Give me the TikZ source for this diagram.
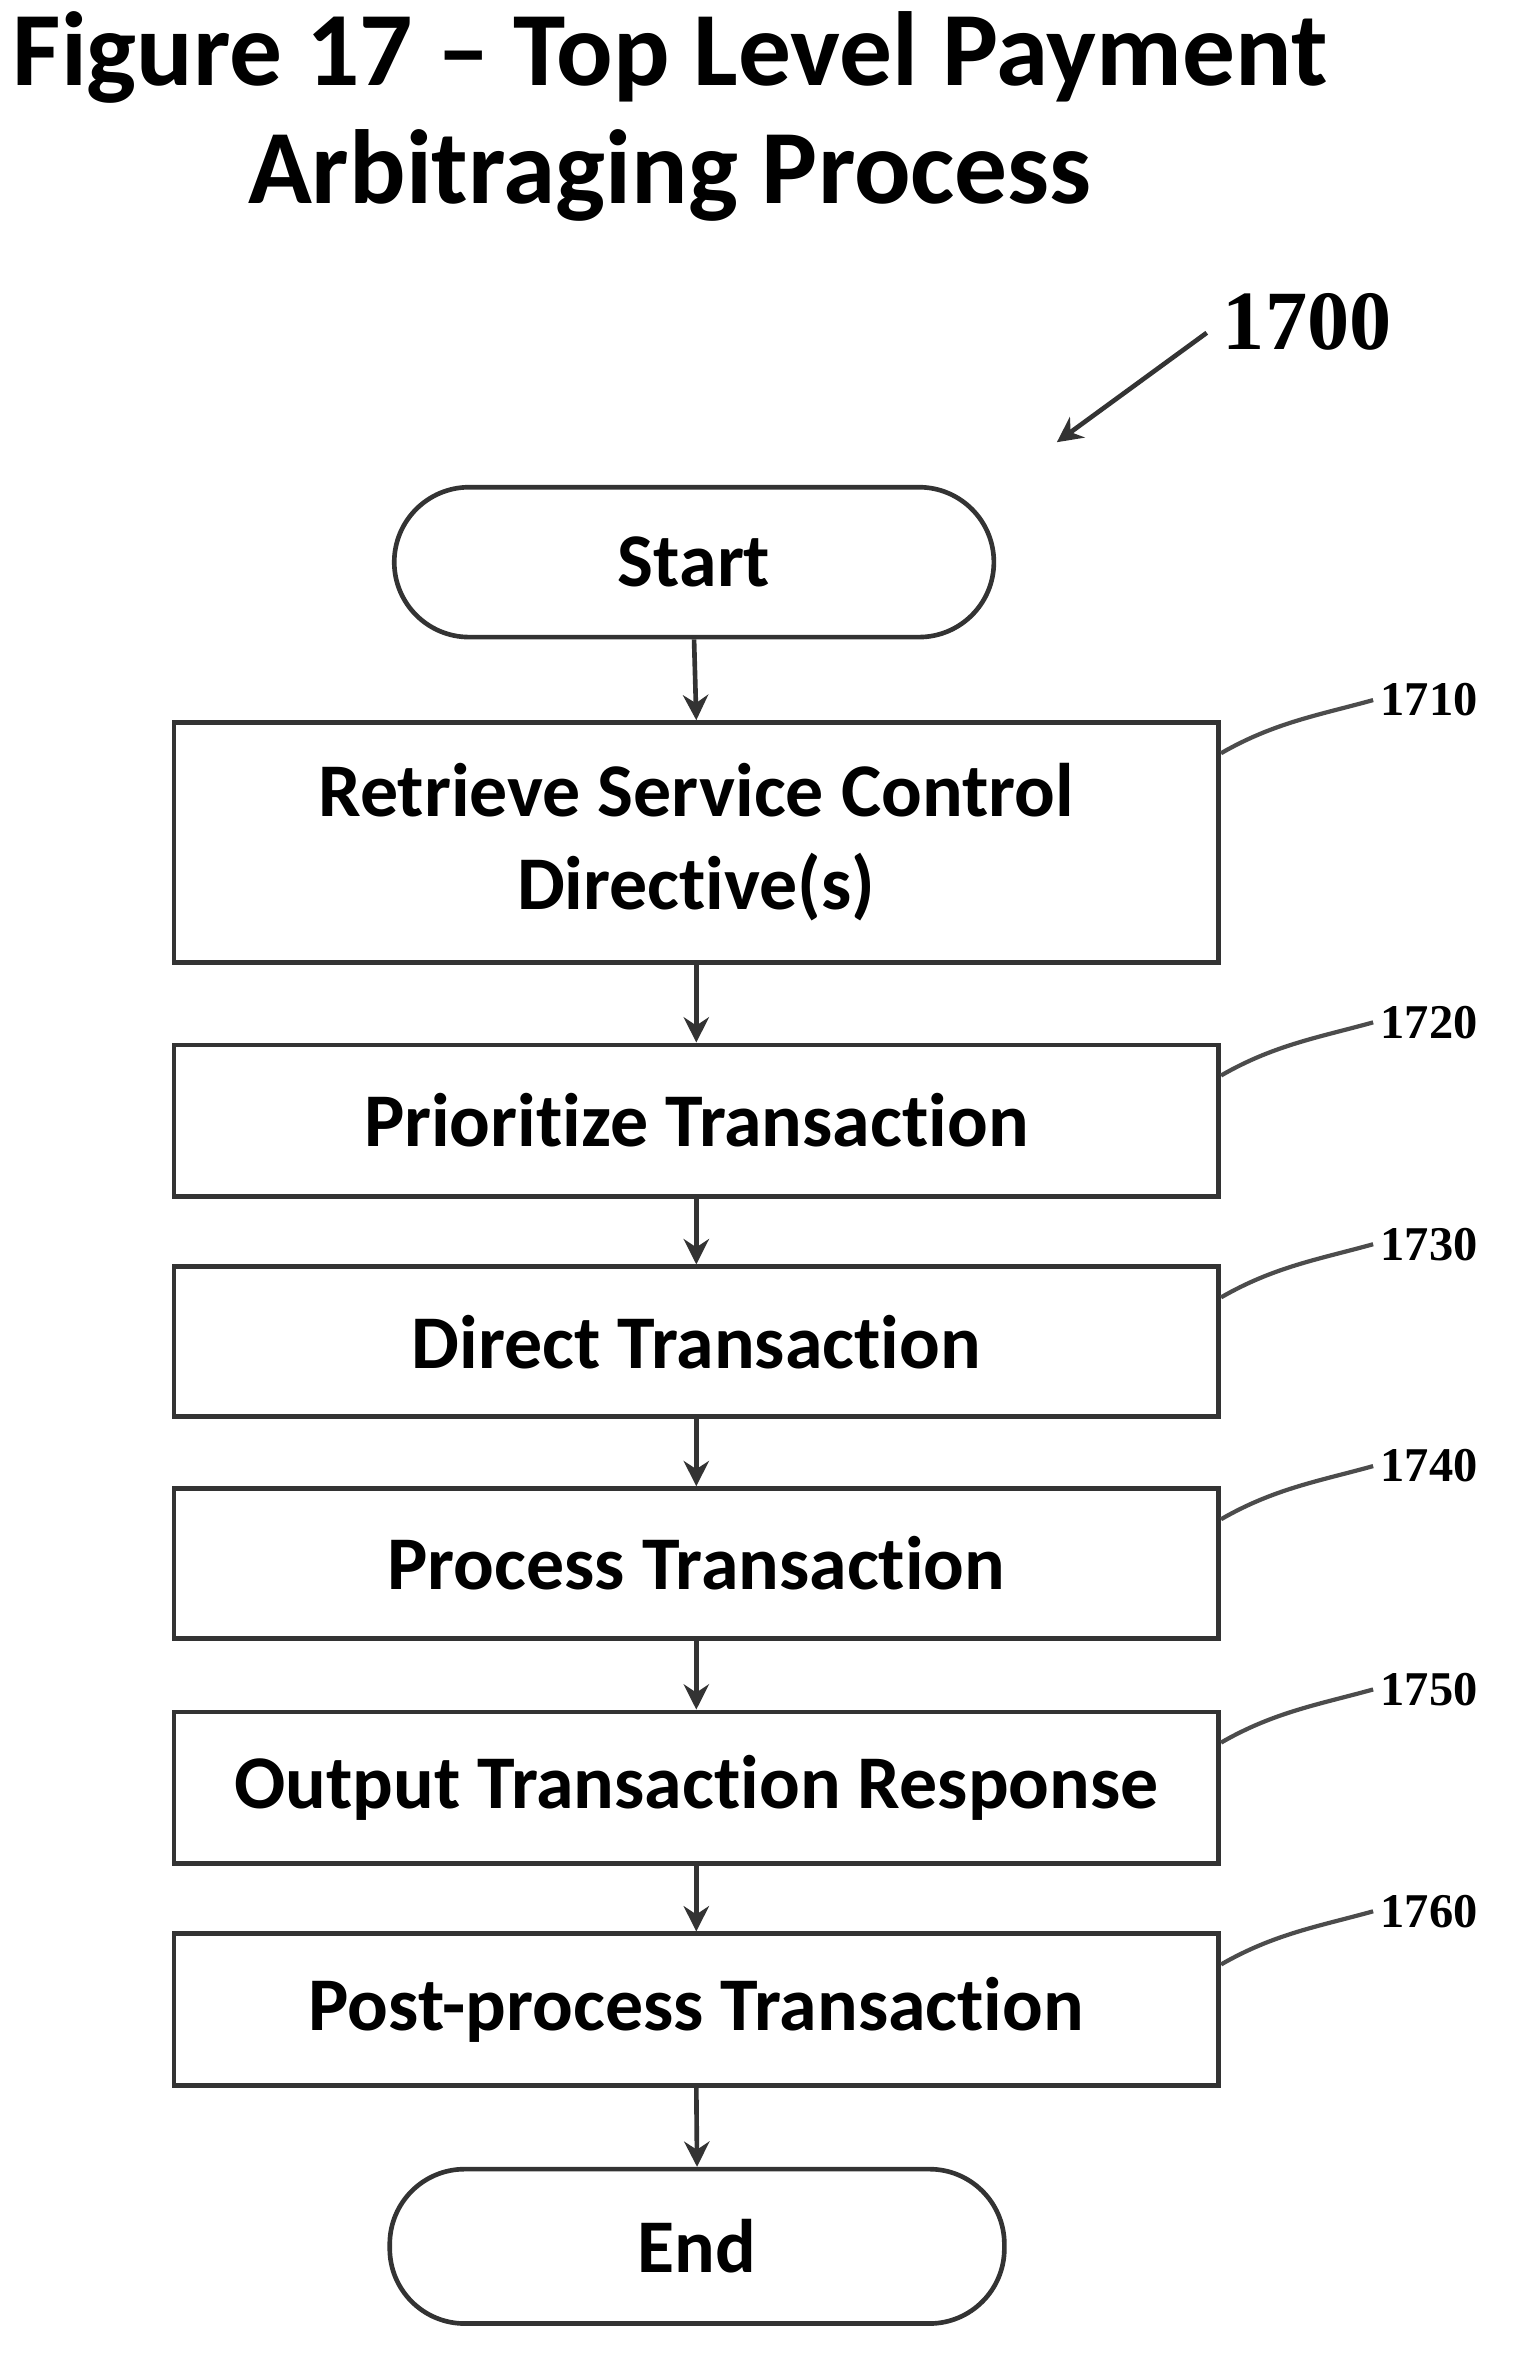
\documentclass[tikz,border=0pt]{standalone}
\usetikzlibrary{arrows.meta}
\usepackage{fontspec}
\setmainfont{Carlito}[Ligatures={NoCommon}]
\newfontfamily\numfont{Liberation Serif}
\begin{document}
\begin{tikzpicture}[x=0.025cm,y=-0.025cm,
  box/.style={draw=black!80,line width=2.2pt,minimum width=697*0.025cm,align=center,font=\fontsize{36}{44}\selectfont\bfseries,inner sep=0pt},
  term/.style={draw=black!80,line width=2.2pt,rounded corners=50*0.025cm,align=center,font=\fontsize{36}{44}\selectfont\bfseries,inner sep=0pt},
  arr/.style={-{Stealth[length=12pt,width=12pt]},line width=2.2pt,draw=black!80},
  lead/.style={line width=2pt,draw=black!70},
  lab/.style={font=\numfont\fontsize{23}{26}\selectfont\bfseries,anchor=west}]
\useasboundingbox (0,0) rectangle (1024,1581);
\node[font=\fontsize{50}{58}\selectfont\bfseries] (t1) at (447,38) {Figure 17 – Top Level Payment};
\node[font=\fontsize{50}{58}\selectfont\bfseries] (t2) at (447,117) {Arbitraging Process};
\node[font=\numfont\fontsize{40}{44}\selectfont\bfseries] (n1700) at (872,215) {1700};
\coordinate (a0) at (805,222); \coordinate (a1) at (705,295);
\draw[arr] (a0) -- (a1);
\node[term,minimum width=400*0.025cm,minimum height=100*0.025cm] (s) at (463,375) {Start};
\node[box,minimum height=160*0.025cm] (b1) at (464.5,562) {Retrieve Service Control\\Directive(s)};
\node[box,minimum height=101*0.025cm] (b2) at (464.5,747.5) {Prioritize Transaction};
\node[box,minimum height=100*0.025cm] (b3) at (464.5,895) {Direct Transaction};
\node[box,minimum height=100*0.025cm] (b4) at (464.5,1043) {Process Transaction};
\node[box,minimum height=101*0.025cm] (b5) at (464.5,1192.5) {Output Transaction Response};
\node[box,minimum height=101*0.025cm] (b6) at (464.5,1340.5) {Post-process Transaction};
\node[term,minimum width=410*0.025cm,minimum height=103*0.025cm] (e) at (465,1498.5) {End};
\foreach \a/\b in {s/b1,b1/b2,b2/b3,b3/b4,b4/b5,b5/b6,b6/e} \draw[arr] (\a.south) -- (\b.north);
\foreach \bx/\y/\t in {b1/482/1710,b2/697/1720,b3/845/1730,b4/993/1740,b5/1142/1750,b6/1290/1760}{
  \node[lab] (l\t) at (916,\y-15) {\t};
  \draw[lead] (\bx.north east) ++(0,22) .. controls (850,\y) and (880,\y-5) .. (l\t.west);
}
\end{tikzpicture}
\end{document}
